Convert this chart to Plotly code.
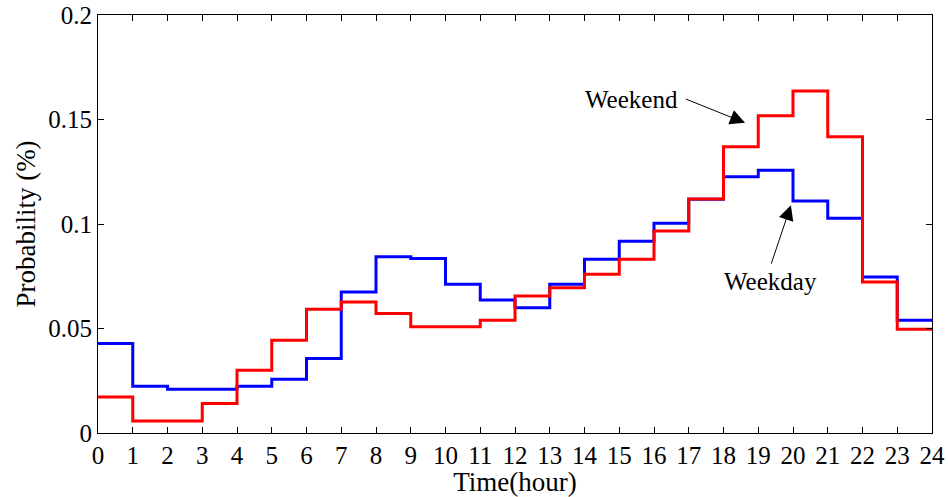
import plotly.graph_objects as go

hours = list(range(24))
weekday = [0.0428, 0.0224, 0.0209, 0.0209, 0.0224, 0.0257, 0.0356, 0.0675,
           0.0843, 0.0835, 0.0712, 0.0636, 0.0599, 0.0712, 0.0831, 0.0918,
           0.1003, 0.1118, 0.1226, 0.1257, 0.1110, 0.1027, 0.0747, 0.0540]
weekend = [0.0172, 0.0058, 0.0058, 0.0141, 0.0300, 0.0444, 0.0592, 0.0627,
           0.0572, 0.0508, 0.0508, 0.0540, 0.0656, 0.0695, 0.0759, 0.0831,
           0.0966, 0.1120, 0.1370, 0.1518, 0.1636, 0.1417, 0.0723, 0.0497]
xticks = list(range(25))
yticks = [0, 0.05, 0.1, 0.15, 0.2]
ytick_labels = ["0", "0.05", "0.1", "0.15", "0.2"]

FONT = "Liberation Serif"

x_step = hours + [24]
fig = go.Figure()
fig.add_trace(go.Scatter(x=x_step, y=weekday + [weekday[-1]], mode="lines",
                         line=dict(shape="hv", color="#0000ff", width=3),
                         name="Weekday", showlegend=False))
fig.add_trace(go.Scatter(x=x_step, y=weekend + [weekend[-1]], mode="lines",
                         line=dict(shape="hv", color="#ff0000", width=3),
                         name="Weekend", showlegend=False))

axis_common = dict(showline=True, linecolor="black", linewidth=1, mirror="ticks",
                   ticks="inside", ticklen=6, tickcolor="black", showgrid=False,
                   zeroline=False, automargin=False,
                   tickfont=dict(family=FONT, size=25, color="black"))
fig.update_xaxes(range=[0, 24], tickvals=xticks, ticktext=[str(t) for t in xticks],
                 title=dict(text="Time(hour)", font=dict(family=FONT, size=27, color="black"),
                            standoff=2),
                 **axis_common)
fig.update_yaxes(range=[0, 0.2], tickvals=yticks, ticktext=ytick_labels,
                 title=dict(text="Probability (%)", font=dict(family=FONT, size=27, color="black"),
                            standoff=4),
                 **axis_common)

# text labels
fig.add_annotation(x=15.34, y=0.1597, text="Weekend", showarrow=False,
                   font=dict(family=FONT, size=25, color="black"))
fig.add_annotation(x=19.34, y=0.0727, text="Weekday", showarrow=False,
                   font=dict(family=FONT, size=25, color="black"))
# arrows
fig.add_annotation(x=18.62, y=0.1484, ax=16.87, ay=0.1601, axref="x", ayref="y",
                   xref="x", yref="y", text="", showarrow=True, arrowhead=2,
                   arrowsize=3, arrowwidth=1, arrowcolor="black", standoff=0)
fig.add_annotation(x=19.94, y=0.1090, ax=19.36, ay=0.0803, axref="x", ayref="y",
                   xref="x", yref="y", text="", showarrow=True, arrowhead=2,
                   arrowsize=3, arrowwidth=1, arrowcolor="black", standoff=0)

fig.update_layout(width=948, height=497, margin=dict(l=98, r=16, t=15, b=64),
                  plot_bgcolor="white", paper_bgcolor="white",
                  font=dict(family=FONT, color="black"))
fig.write_html("out.html")
